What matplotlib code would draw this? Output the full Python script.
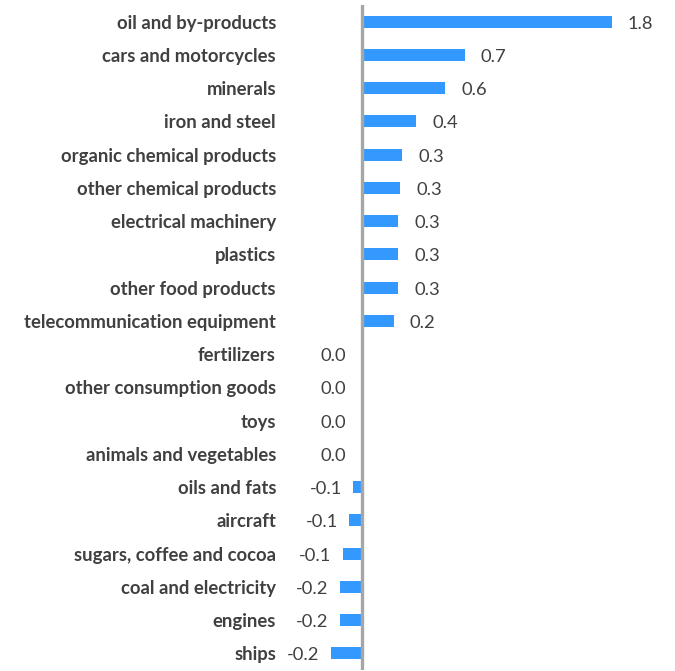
import matplotlib
matplotlib.use("Agg")
import matplotlib.pyplot as plt
import numpy as np

categories = [
    "oil and by-products", "cars and motorcycles", "minerals", "iron and steel",
    "organic chemical products", "other chemical products", "electrical machinery",
    "plastics", "other food products", "telecommunication equipment", "fertilizers",
    "other consumption goods", "toys", "animals and vegetables", "oils and fats",
    "aircraft", "sugars, coffee and cocoa", "coal and electricity", "engines", "ships",
]
values = [1.80, 0.74, 0.60, 0.39, 0.29, 0.276, 0.26, 0.26, 0.26, 0.23,
          0.0, 0.0, 0.0, 0.0, -0.065, -0.094, -0.14, -0.16, -0.16, -0.225]

W, H = 675, 671
fig = plt.figure(figsize=(W / 100, H / 100), dpi=100)
x0_px = 362
ppu = 138.8
xmin, xmax = -0.25, 2.25
left_px = x0_px + xmin * ppu
right_px = x0_px + xmax * ppu
ax = fig.add_axes([left_px / W, 1 / H, (right_px - left_px) / W, 665 / H])

n = len(categories)
y = np.arange(n)
ax.barh(y, values, height=0.36, color="#3399FF", zorder=2)
ax.axvline(0, color="#A6A6A6", lw=2.4, zorder=3)
ax.set_xlim(xmin, xmax)
ax.set_ylim(n - 0.5, -0.5)

for s in ax.spines.values():
    s.set_visible(False)
ax.set_xticks([])
ax.set_yticks(y)
pad_px = left_px - 276
ax.set_yticklabels(categories, fontfamily="Lato", fontweight="bold",
                   fontsize=13.3, color="#404040")
ax.tick_params(axis="y", length=0, pad=pad_px * 0.72)

for yi, v in zip(y, values):
    txt = f"{v:.1f}"
    if v > 0:
        off, ha = 11.5, "left"
    elif v == 0:
        off, ha = -11.5, "right"
    else:
        off, ha = -8, "right"
    ax.annotate(txt, xy=(v, yi), xytext=(off, -1.5), textcoords="offset points",
                ha=ha, va="center", fontfamily="Lato", fontsize=13.2,
                color="#404040")

fig.savefig("out.png", dpi=100)
